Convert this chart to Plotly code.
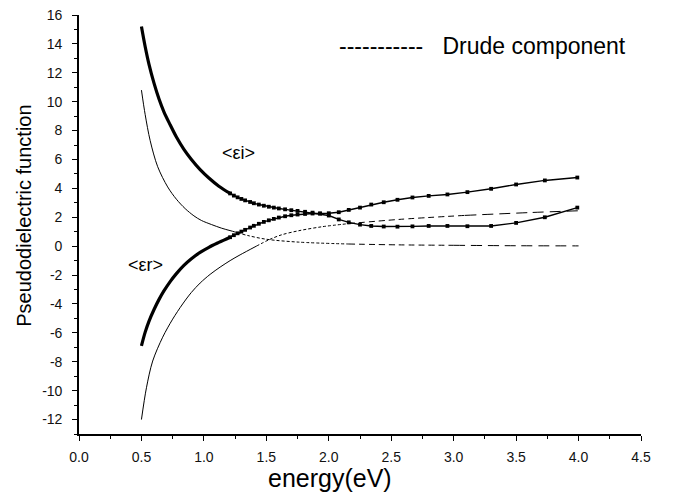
import plotly.graph_objects as go

# ---- measured <eps>: low-energy part (dense points, seen as a thick curve)
e_low = [0.50, 0.53, 0.56, 0.60, 0.64, 0.68, 0.73, 0.78, 0.84, 0.90, 0.97, 1.04, 1.12, 1.21]
ei_low = [15.2, 13.8, 12.6, 11.3, 10.2, 9.3, 8.4, 7.55, 6.7, 6.0, 5.3, 4.72, 4.15, 3.65]
er_low = [-6.9, -5.95, -5.2, -4.4, -3.7, -3.1, -2.45, -1.9, -1.33, -0.87, -0.43, -0.08, 0.26, 0.62]

# ---- measured <eps>: points with visible markers
e_pts = [1.21, 1.24, 1.27, 1.30, 1.33, 1.37, 1.40, 1.44, 1.48, 1.52,
         1.56, 1.60, 1.65, 1.70, 1.75, 1.81, 1.87, 1.93, 2.00, 2.08,
         2.16, 2.25, 2.34, 2.44, 2.55, 2.67, 2.80, 2.95, 3.11, 3.30,
         3.50, 3.73, 3.99]
ei_pts = [3.65, 3.50, 3.38, 3.27, 3.17, 3.06, 2.97, 2.88, 2.80, 2.73,
          2.67, 2.61, 2.55, 2.49, 2.44, 2.38, 2.32, 2.25, 2.12, 1.85,
          1.65, 1.49, 1.40, 1.36, 1.35, 1.37, 1.40, 1.40, 1.38, 1.40,
          1.61, 2.00, 2.67]
er_pts = [0.62, 0.76, 0.89, 1.01, 1.13, 1.29, 1.41, 1.55, 1.68, 1.79,
          1.89, 1.98, 2.07, 2.14, 2.19, 2.23, 2.26, 2.27, 2.28, 2.35,
          2.51, 2.67, 2.88, 3.04, 3.21, 3.37, 3.48, 3.58, 3.74, 3.97,
          4.27, 4.55, 4.75]

# ---- Drude component
drude_e_i = [0.50, 0.53, 0.57, 0.63, 0.71, 0.78, 0.85, 0.92, 0.98, 1.06,
             1.14, 1.23, 1.35, 1.50, 1.76, 2.16, 2.56, 3.00, 3.50, 4.00]
drude_i = [10.8, 9.1, 7.3, 5.5, 4.1, 3.25, 2.6, 2.1, 1.78, 1.5,
           1.25, 1.03, 0.74, 0.48, 0.28, 0.15, 0.09, 0.06, 0.03, 0.02]
drude_e_r = [0.50, 0.54, 0.59, 0.67, 0.75, 0.83, 0.90, 0.97, 1.05, 1.13,
             1.21, 1.29, 1.42, 1.52, 1.62, 1.76, 1.95, 2.16, 2.56, 3.09,
             3.62, 4.00]
drude_r = [-12.0, -9.8, -7.95, -6.3, -5.05, -4.0, -3.2, -2.55, -1.95, -1.45,
           -1.0, -0.6, 0.0, 0.44, 0.78, 1.07, 1.35, 1.56, 1.85, 2.13,
           2.33, 2.45]

# ---- axes
x_ticks = [0.0, 0.5, 1.0, 1.5, 2.0, 2.5, 3.0, 3.5, 4.0, 4.5]
x_ticklabels = ["0.0", "0.5", "1.0", "1.5", "2.0", "2.5", "3.0", "3.5", "4.0", "4.5"]
x_minor = [0.25, 0.75, 1.25, 1.75, 2.25, 2.75, 3.25, 3.75, 4.25]
y_ticks = [-12, -10, -8, -6, -4, -2, 0, 2, 4, 6, 8, 10, 12, 14, 16]
y_ticklabels = ["-12", "-10", "-8", "-6", "-4", "-2", "0", "2", "4", "6", "8", "10", "12", "14", "16"]
y_minor = [-13, -11, -9, -7, -5, -3, -1, 1, 3, 5, 7, 9, 11, 13, 15]

FONT = "Liberation Sans, Arial, Helvetica, sans-serif"


def seg(xs, ys, lo, hi):
    idx = [k for k, x in enumerate(xs) if lo <= x <= hi]
    return [xs[k] for k in idx], [ys[k] for k in idx]


fig = go.Figure()

# Drude component, thin lines whose dashes grow longer with energy
dashes = ["solid", "3px,2px", "6px,4px", "11px,6px"]
bounds_i = [0.50, 1.23, 2.16, 3.00, 4.00]
bounds_r = [0.50, 1.42, 2.16, 3.09, 4.00]
for xs, ys, b in [(drude_e_i, drude_i, bounds_i), (drude_e_r, drude_r, bounds_r)]:
    for k, dash in enumerate(dashes):
        sx, sy = seg(xs, ys, b[k], b[k + 1])
        fig.add_trace(go.Scatter(x=sx, y=sy, mode="lines",
                                 line=dict(color="black", width=1, dash=dash,
                                           shape="spline", smoothing=0.9),
                                 hoverinfo="skip"))

# measured, thick low-energy part
for ys in (ei_low, er_low):
    fig.add_trace(go.Scatter(x=e_low, y=ys, mode="lines",
                             line=dict(color="black", width=3.2, shape="spline", smoothing=0.9),
                             hoverinfo="skip"))

# measured, line + square markers
for ys in (ei_pts, er_pts):
    fig.add_trace(go.Scatter(x=e_pts, y=ys, mode="lines+markers",
                             line=dict(color="black", width=1.4),
                             marker=dict(symbol="square", size=3.8, color="black"),
                             hoverinfo="skip"))

fig.add_annotation(x=1.28, y=6.45, xref="x", yref="y", text="&lt;εi&gt;", showarrow=False,
                   font=dict(family=FONT, size=18, color="black"))
fig.add_annotation(x=0.53, y=-1.3, xref="x", yref="y", text="&lt;εr&gt;", showarrow=False,
                   font=dict(family=FONT, size=18, color="black"))
fig.add_annotation(x=2.065, y=13.85, xref="x", yref="y", xanchor="left", yanchor="middle",
                   text="-----------&nbsp;&nbsp;&nbsp;Drude component", showarrow=False,
                   font=dict(family=FONT, size=23, color="black"))
fig.add_annotation(x=2.01, y=-0.105, xref="x", yref="paper", xanchor="center", yanchor="middle",
                   text="energy(eV)", showarrow=False,
                   font=dict(family=FONT, size=25, color="black"))
fig.add_annotation(x=-0.0985, y=0.52, xref="paper", yref="paper", xanchor="center", yanchor="middle",
                   textangle=-90, text="Pseudodielectric function", showarrow=False,
                   font=dict(family=FONT, size=20, color="black"))

# the page body adds an 8px offset, so the figure is sized to fit the window
fig.update_layout(
    width=665, height=487,
    margin=dict(l=71, r=32, t=7, b=61, autoexpand=False),
    plot_bgcolor="white", paper_bgcolor="white",
    showlegend=False,
    font=dict(family=FONT, color="black"),
)
fig.update_xaxes(range=[0, 4.5], tickmode="array", tickvals=x_ticks, ticktext=x_ticklabels,
                 ticks="outside", ticklen=5, tickwidth=1.3, tickcolor="black",
                 showline=True, linecolor="black", linewidth=1.6,
                 showgrid=False, zeroline=False, automargin=False,
                 ticklabeloverflow="allow",
                 tickfont=dict(family=FONT, size=14, color="#111"),
                 ticklabelstandoff=4,
                 minor=dict(ticks="outside", ticklen=3, tickwidth=1.2, tickcolor="black",
                            tickvals=x_minor, showgrid=False))
fig.update_yaxes(range=[-13, 16], tickmode="array", tickvals=y_ticks, ticktext=y_ticklabels,
                 ticks="outside", ticklen=5, tickwidth=1.3, tickcolor="black",
                 showline=True, linecolor="black", linewidth=1.6,
                 showgrid=False, zeroline=False, automargin=False,
                 ticklabeloverflow="allow",
                 tickfont=dict(family=FONT, size=14, color="#111"),
                 ticklabelstandoff=7,
                 minor=dict(ticks="outside", ticklen=3, tickwidth=1.2, tickcolor="black",
                            tickvals=y_minor, showgrid=False))

fig.write_html("out.html")
